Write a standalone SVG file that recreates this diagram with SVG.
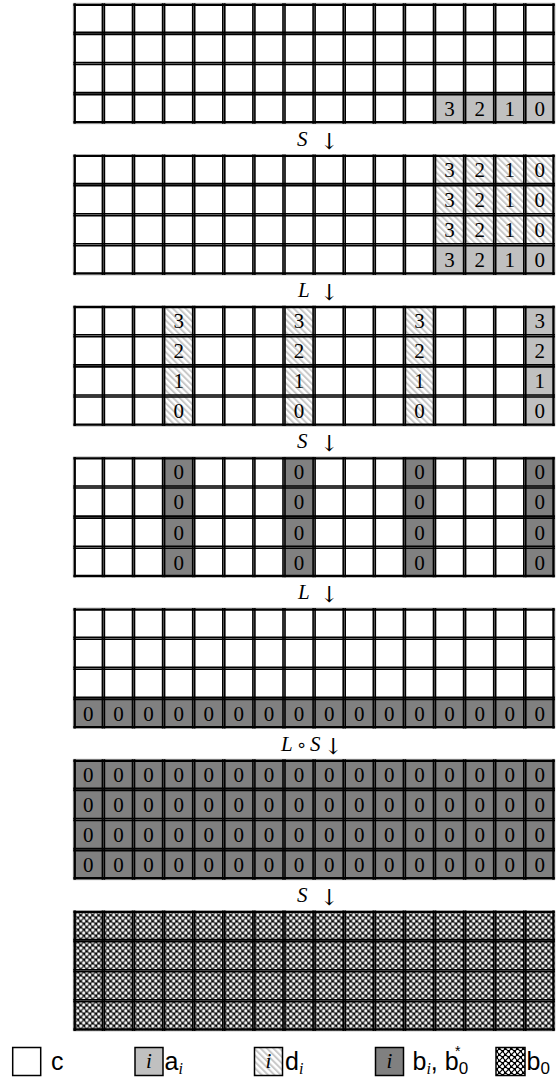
<svg xmlns="http://www.w3.org/2000/svg" xmlns:xlink="http://www.w3.org/1999/xlink" width="557" height="1083" viewBox="0 0 557 1083">
<style>
.bk{fill:none;stroke:#000;stroke-width:1.6}
.bo{fill:none;stroke:#000;stroke-width:2.2}
.gr{fill:none;stroke:#a0a0a0;stroke-width:0.8}
.a{fill:#c0c0c0}
.b{fill:#808080}
.d{fill:url(#hatch)}
.x{fill:url(#xhatch)}
.n{font-family:"Liberation Serif","DejaVu Serif",serif;font-size:21px;text-anchor:middle;fill:#000}
.lbl{font-family:"Liberation Serif","DejaVu Serif",serif;font-size:21px;fill:#000}
.it{font-style:italic}
.ar{font-family:"DejaVu Serif","DejaVu Sans",serif;font-size:22px;font-weight:normal}
.op{font-family:"DejaVu Sans",sans-serif;font-size:18px}
.lg{font-family:"Liberation Sans","DejaVu Sans",sans-serif;font-size:25px;fill:#000}
.sub{font-family:"Liberation Serif","DejaVu Serif",serif;font-style:italic;font-size:16px}
.sbs{font-family:"Liberation Sans","DejaVu Sans",sans-serif;font-size:17px}
.sup{font-family:"Liberation Sans","DejaVu Sans",sans-serif;font-size:14px}
.box{stroke:#000;stroke-width:1.5}
</style>
<defs>
<pattern id="hatch" width="4.5" height="4.5" patternUnits="userSpaceOnUse" patternTransform="rotate(-45)">
<rect width="4.5" height="4.5" fill="#fff"/>
<rect width="2" height="4.5" fill="#c8c8c8"/>
</pattern>
<pattern id="xhatch" width="6" height="6" patternUnits="userSpaceOnUse">
<rect width="6" height="6" fill="#000"/>
<path d="M1.5 -0.7L3.7 1.5L1.5 3.7L-0.7 1.5ZM4.5 2.3L6.7 4.5L4.5 6.7L2.3 4.5Z" fill="#fff"/>
</pattern>
<g id="gl">
<path class="gr" d="M0 0V120.4M30.1 0V120.4M60.2 0V120.4M90.3 0V120.4M120.4 0V120.4M150.5 0V120.4M180.6 0V120.4M210.7 0V120.4M240.8 0V120.4M270.9 0V120.4M301 0V120.4M331.1 0V120.4M361.2 0V120.4M391.3 0V120.4M421.4 0V120.4M451.5 0V120.4M481.6 0V120.4M0 0H481.6M0 30.1H481.6M0 60.2H481.6M0 90.3H481.6M0 120.4H481.6"/>
<path class="bk" d="M29.1 0V120.4M31.1 0V120.4M59.2 0V120.4M61.2 0V120.4M89.3 0V120.4M91.3 0V120.4M119.4 0V120.4M121.4 0V120.4M149.5 0V120.4M151.5 0V120.4M179.6 0V120.4M181.6 0V120.4M209.7 0V120.4M211.7 0V120.4M239.8 0V120.4M241.8 0V120.4M269.9 0V120.4M271.9 0V120.4M300 0V120.4M302 0V120.4M330.1 0V120.4M332.1 0V120.4M360.2 0V120.4M362.2 0V120.4M390.3 0V120.4M392.3 0V120.4M420.4 0V120.4M422.4 0V120.4M450.5 0V120.4M452.5 0V120.4M0 29.1H481.6M0 31.1H481.6M0 59.2H481.6M0 61.2H481.6M0 89.3H481.6M0 91.3H481.6"/>
<path class="bo" d="M1.5 0V120.4M480.1 0V120.4M0 1.5H481.6M0 118.9H481.6"/>
</g>
</defs>
<rect width="557" height="1083" fill="#fff"/>

<g id="grid1" transform="translate(73.3,3.3)">
<rect class="a" x="361.2" y="90.3" width="120.4" height="30.1"/>
<use href="#gl"/>
<text class="n" x="376.25 406.35 436.45 466.55" y="112.8">3210</text>
</g>

<g id="grid2" transform="translate(73.3,154.5)">
<rect class="d" x="361.2" y="0" width="120.4" height="90.3"/>
<rect class="a" x="361.2" y="90.3" width="120.4" height="30.1"/>
<use href="#gl"/>
<text class="n" x="376.25 406.35 436.45 466.55" y="22.5">3210</text>
<text class="n" x="376.25 406.35 436.45 466.55" y="52.6">3210</text>
<text class="n" x="376.25 406.35 436.45 466.55" y="82.7">3210</text>
<text class="n" x="376.25 406.35 436.45 466.55" y="112.8">3210</text>
</g>

<g id="grid3" transform="translate(73.3,305.7)">
<rect class="d" x="90.3" y="0" width="30.1" height="120.4"/>
<rect class="d" x="210.7" y="0" width="30.1" height="120.4"/>
<rect class="d" x="331.1" y="0" width="30.1" height="120.4"/>
<rect class="a" x="451.5" y="0" width="30.1" height="120.4"/>
<use href="#gl"/>
<text class="n" x="105.35 225.75 346.15 466.55" y="22.5">3333</text>
<text class="n" x="105.35 225.75 346.15 466.55" y="52.6">2222</text>
<text class="n" x="105.35 225.75 346.15 466.55" y="82.7">1111</text>
<text class="n" x="105.35 225.75 346.15 466.55" y="112.8">0000</text>
</g>

<g id="grid4" transform="translate(73.3,456.9)">
<rect class="b" x="90.3" y="0" width="30.1" height="120.4"/>
<rect class="b" x="210.7" y="0" width="30.1" height="120.4"/>
<rect class="b" x="331.1" y="0" width="30.1" height="120.4"/>
<rect class="b" x="451.5" y="0" width="30.1" height="120.4"/>
<use href="#gl"/>
<text class="n" x="105.35 225.75 346.15 466.55" y="22.5">0000</text>
<text class="n" x="105.35 225.75 346.15 466.55" y="52.6">0000</text>
<text class="n" x="105.35 225.75 346.15 466.55" y="82.7">0000</text>
<text class="n" x="105.35 225.75 346.15 466.55" y="112.8">0000</text>
</g>

<g id="grid5" transform="translate(73.3,608.1)">
<rect class="b" x="0" y="90.3" width="481.6" height="30.1"/>
<use href="#gl"/>
<text class="n" x="15.05 45.15 75.25 105.35 135.45 165.55 195.65 225.75 255.85 285.95 316.05 346.15 376.25 406.35 436.45 466.55" y="112.8">0000000000000000</text>
</g>

<g id="grid6" transform="translate(73.3,759.3)">
<rect class="b" x="0" y="0" width="481.6" height="120.4"/>
<use href="#gl"/>
<text class="n" x="15.05 45.15 75.25 105.35 135.45 165.55 195.65 225.75 255.85 285.95 316.05 346.15 376.25 406.35 436.45 466.55" y="22.5">0000000000000000</text>
<text class="n" x="15.05 45.15 75.25 105.35 135.45 165.55 195.65 225.75 255.85 285.95 316.05 346.15 376.25 406.35 436.45 466.55" y="52.6">0000000000000000</text>
<text class="n" x="15.05 45.15 75.25 105.35 135.45 165.55 195.65 225.75 255.85 285.95 316.05 346.15 376.25 406.35 436.45 466.55" y="82.7">0000000000000000</text>
<text class="n" x="15.05 45.15 75.25 105.35 135.45 165.55 195.65 225.75 255.85 285.95 316.05 346.15 376.25 406.35 436.45 466.55" y="112.8">0000000000000000</text>
</g>

<g id="grid7" transform="translate(73.3,910.5)">
<rect class="x" x="0" y="0" width="481.6" height="120.4"/>
<use href="#gl"/>
</g>

<g id="connectors">
<text class="lbl" y="145.7"><tspan class="it" x="297">S</tspan><tspan class="ar" x="320" dy="3">↓</tspan></text>
<text class="lbl" y="296.9"><tspan class="it" x="298">L</tspan><tspan class="ar" x="320" dy="3">↓</tspan></text>
<text class="lbl" y="448.1"><tspan class="it" x="297">S</tspan><tspan class="ar" x="320" dy="3">↓</tspan></text>
<text class="lbl" y="599.3"><tspan class="it" x="298">L</tspan><tspan class="ar" x="320" dy="3">↓</tspan></text>
<text class="lbl" y="750.5"><tspan class="it" x="281">L</tspan><tspan class="op" x="296">∘</tspan><tspan class="it" x="310">S</tspan><tspan class="ar" x="324" dy="3">↓</tspan></text>
<text class="lbl" y="901.7"><tspan class="it" x="297">S</tspan><tspan class="ar" x="320" dy="3">↓</tspan></text>
</g>

<g id="legend">
<g id="leg-c">
<rect class="box" x="12.7" y="1047.5" width="28" height="28" fill="#fff"/>
<text class="lg" x="51" y="1070">c</text>
</g>
<g id="leg-a">
<rect class="box a" x="135" y="1047.5" width="28" height="28"/>
<text class="n it" x="149" y="1068">i</text>
<text class="lg" x="164.5" y="1070">a<tspan class="sub" dy="4">i</tspan></text>
</g>
<g id="leg-d">
<rect class="box d" x="254.5" y="1047.5" width="28" height="28"/>
<text class="n it" x="268.5" y="1068">i</text>
<text class="lg" x="285" y="1070">d<tspan class="sub" dy="4">i</tspan></text>
</g>
<g id="leg-b">
<rect class="box b" x="375.5" y="1047.5" width="28" height="28"/>
<text class="n it" x="389.5" y="1068">i</text>
<text class="lg" x="412.5" y="1070">b<tspan class="sub" dy="4">i</tspan><tspan dy="-4">, b</tspan><tspan class="sbs" dy="4">0</tspan><tspan class="sup" x="455" y="1056">*</tspan></text>
</g>
<g id="leg-b0">
<rect class="box x" x="496" y="1047.5" width="29" height="28"/>
<text class="lg" x="526.5" y="1070">b<tspan class="sbs" dy="4">0</tspan></text>
</g>
</g>
</svg>
